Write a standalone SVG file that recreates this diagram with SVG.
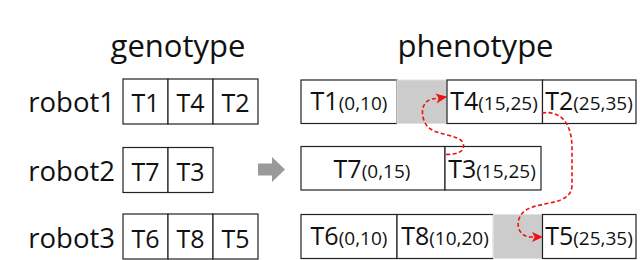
<svg xmlns="http://www.w3.org/2000/svg" width="640" height="260" viewBox="0 0 640 260">
<defs>
<style>
text{font-family:"Open Sans","Noto Sans","DejaVu Sans",sans-serif;fill:#111}
.title{font-size:31px;text-anchor:middle}
.lbl{font-size:27.5px;text-anchor:end}
.g{font-size:25px;text-anchor:middle}
.p{font-size:25px;text-anchor:middle}
.s{font-size:19px}
.cell{fill:#fff;stroke:#222;stroke-width:1.2}
.gap{fill:#cccccc;stroke:#e0e0e0;stroke-width:1}
.link{fill:none;stroke:#ee1111;stroke-width:1.6;stroke-dasharray:4,2.5;marker-end:url(#ah)}
</style>
<marker id="ah" viewBox="0 0 10 10" refX="9" refY="5" markerWidth="8" markerHeight="7" markerUnits="strokeWidth" orient="auto">
<path d="M0,0.5 L10,5 L0,9.5 L2.5,5 z" fill="#ee1111"/>
</marker>
</defs>
<rect width="640" height="260" fill="#fff"/>
<text class="title" x="178" y="57">genotype</text>
<text class="title" x="475.5" y="57">phenotype</text>

<g id="robot1-genotype">
<text class="lbl" x="115" y="112">robot1</text>
<rect class="cell" x="123" y="79" width="45" height="45"/>
<rect class="cell" x="168" y="79" width="45" height="45"/>
<rect class="cell" x="213" y="79" width="45" height="45"/>
<text class="g" x="145.5" y="112">T1</text>
<text class="g" x="190.5" y="112">T4</text>
<text class="g" x="235.5" y="112">T2</text>
</g>
<g id="robot2-genotype">
<text class="lbl" x="115" y="181">robot2</text>
<rect class="cell" x="123" y="147.5" width="45" height="45"/>
<rect class="cell" x="168" y="147.5" width="45" height="45"/>
<text class="g" x="145.5" y="181">T7</text>
<text class="g" x="190.5" y="181">T3</text>
</g>
<g id="robot3-genotype">
<text class="lbl" x="115" y="248">robot3</text>
<rect class="cell" x="123" y="214" width="45" height="45"/>
<rect class="cell" x="168" y="214" width="45" height="45"/>
<rect class="cell" x="213" y="214" width="45" height="45"/>
<text class="g" x="145.5" y="248">T6</text>
<text class="g" x="190.5" y="248">T8</text>
<text class="g" x="235.5" y="248">T5</text>
</g>

<g id="convert-arrow">
<path d="M258,163.5 L272,163.5 L272,157 L285,169.5 L272,182 L272,175.5 L258,175.5 z" fill="#9a9a9a"/>
</g>

<g id="robot1-phenotype">
<rect class="cell" x="301" y="80" width="96" height="43.5"/>
<rect class="gap" x="397" y="80" width="50" height="43.5"/>
<rect class="cell" x="447" y="80" width="95.5" height="43.5"/>
<rect class="cell" x="542.5" y="80" width="93.5" height="43.5"/>
<text class="p" x="349" y="109.5">T1<tspan class="s">(0,10)</tspan></text>
<text class="p" x="494" y="109.5">T4<tspan class="s">(15,25)</tspan></text>
<text class="p" x="589" y="109.5">T2<tspan class="s">(25,35)</tspan></text>
</g>
<g id="robot2-phenotype">
<rect class="cell" x="301" y="146.5" width="144" height="43.5"/>
<rect class="cell" x="445" y="146.5" width="96" height="43.5"/>
<text class="p" x="372" y="178">T7<tspan class="s">(0,15)</tspan></text>
<text class="p" x="492" y="178">T3<tspan class="s">(15,25)</tspan></text>
</g>
<g id="robot3-phenotype">
<rect class="cell" x="301" y="214.5" width="96" height="44"/>
<rect class="cell" x="397" y="214.5" width="96.5" height="44"/>
<rect class="gap" x="493.5" y="214.5" width="49" height="44"/>
<rect class="cell" x="542.5" y="214.5" width="93.5" height="44"/>
<text class="p" x="349" y="245">T6<tspan class="s">(0,10)</tspan></text>
<text class="p" x="445" y="245">T8<tspan class="s">(10,20)</tspan></text>
<text class="p" x="589" y="245">T5<tspan class="s">(25,35)</tspan></text>
</g>

<g id="connectors">
<path class="link" d="M446,154.5 C458,154.5 466,151 463,143 C459,134 437,136 428,127 C420,118 420,102 432,99 L446,97"/>
<path class="link" d="M542,113 C562,110 572,125 572,148 L572,185 C572,206 540,201 526,210 C514,218 516,236 530,237 L542,237"/>
</g>
</svg>
